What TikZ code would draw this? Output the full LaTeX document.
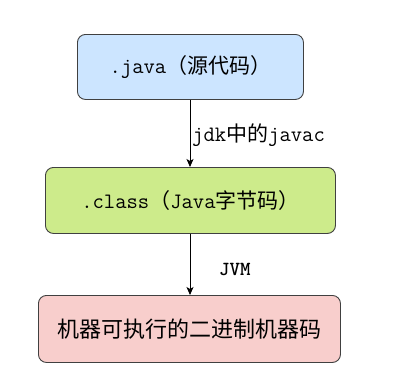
\documentclass[tikz,border=0pt]{standalone}
\usepackage{fontspec}
\newfontfamily\cjk{Noto Sans CJK SC}
\usetikzlibrary{arrows.meta}
\newcommand\lat{\ttfamily\fontsize{22}{24}\selectfont}
\newcommand\han{\cjk\fontsize{21}{24}\selectfont}
\begin{document}
\begin{tikzpicture}[x=1pt,y=-1pt,
  boxstyle/.style={draw=black!75, line width=0.9pt, rounded corners=8pt, inner sep=0pt, anchor=north west},
  arr/.style={-{Stealth[length=8pt,width=7pt,inset=2pt]}, line width=0.8pt, black},
  lbl/.style={inner sep=0pt, anchor=west}
]
\useasboundingbox (0,0) rectangle (393,388);
\node[boxstyle, fill={rgb,255:red,204;green,229;blue,255}, minimum width=226pt, minimum height=65pt] (java) at (77,34)
  {\lat .java\han （源代码）};
\node[boxstyle, fill={rgb,255:red,205;green,235;blue,139}, minimum width=290pt, minimum height=66pt] (class) at (45,167)
  {\lat .class\han （\lat Java\han 字节码）};
\node[boxstyle, fill={rgb,255:red,248;green,206;blue,204}, minimum width=302pt, minimum height=67pt] (bin) at (38,295)
  {\cjk\fontsize{22}{24}\selectfont 机器可执行的二进制机器码};
\draw[arr] (java.south -| 190,0) -- (class.north -| 190,0);
\draw[arr] (class.south -| 190,0) -- (bin.north -| 190,0);
\node[lbl] (l1) at (192,135) {\lat jdk\han 中的\lat javac};
\node[lbl] (l2) at (219,269) {\ttfamily\bfseries\fontsize{20}{22}\selectfont JVM};
\end{tikzpicture}
\end{document}
